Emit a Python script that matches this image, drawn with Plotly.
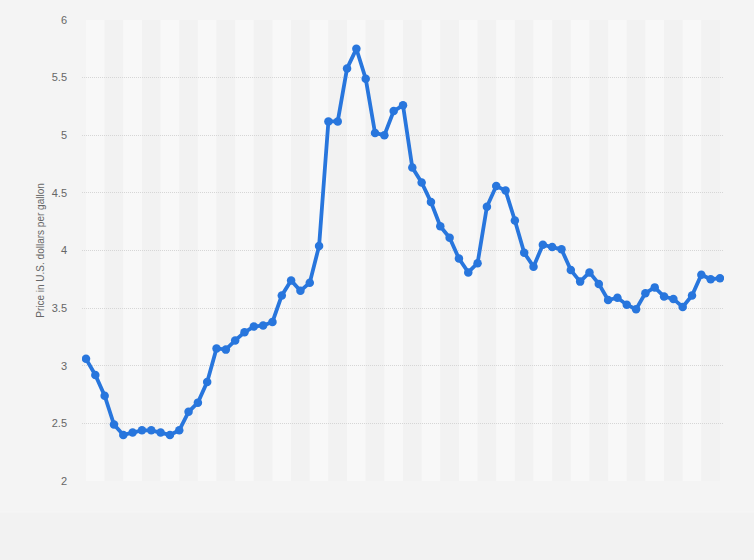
import plotly.graph_objects as go

# Monthly average price (U.S. dollars per gallon), 69 observations
period_index = list(range(69))
prices = [
    3.06, 2.92, 2.74, 2.49, 2.40, 2.42, 2.44, 2.44, 2.42, 2.40,
    2.44, 2.60, 2.68, 2.86, 3.15, 3.14, 3.22, 3.29, 3.34, 3.35,
    3.38, 3.61, 3.74, 3.65, 3.72, 4.04, 5.12, 5.12, 5.58, 5.75,
    5.49, 5.02, 5.00, 5.21, 5.26, 4.72, 4.59, 4.42, 4.21, 4.11,
    3.93, 3.81, 3.89, 4.38, 4.56, 4.52, 4.26, 3.98, 3.86, 4.05,
    4.03, 4.01, 3.83, 3.73, 3.81, 3.71, 3.57, 3.59, 3.53, 3.49,
    3.63, 3.68, 3.60, 3.58, 3.51, 3.61, 3.79, 3.75, 3.76,
]
y_ticks = [2, 2.5, 3, 3.5, 4, 4.5, 5, 5.5, 6]
y_tick_labels = ["2", "2.5", "3", "3.5", "4", "4.5", "5", "5.5", "6"]
y_title = "Price in U.S. dollars per gallon"

LINE = "#2876dd"
PAPER = "#f4f4f4"

fig = go.Figure()
fig.add_trace(go.Scatter(
    x=period_index, y=prices, mode="lines+markers",
    line=dict(color=LINE, width=3.8),
    marker=dict(color=LINE, size=8.5),
    hoverinfo="y", showlegend=False,
))

shapes = []
# alternating vertical bands, each spanning two periods
n = len(period_index) - 1
for k in range(0, n, 2):
    band = k // 2
    shapes.append(dict(
        type="rect", xref="x", yref="paper", x0=k, x1=min(k + 2, n), y0=0, y1=1,
        fillcolor="#f8f8f8" if band % 2 == 0 else "#f2f2f2",
        line=dict(width=0), layer="below",
    ))
# bottom footer strip
shapes.append(dict(
    type="rect", xref="paper", yref="paper", x0=-0.2, x1=1.1, y0=-0.2, y1=-0.0672,
    fillcolor="#f2f2f2", line=dict(width=1, color="#f6f6f6"), layer="below",
))

fig.update_layout(
    width=754, height=560,
    margin=dict(l=82, r=30, t=20, b=79),
    paper_bgcolor=PAPER, plot_bgcolor=PAPER,
    font=dict(family="Liberation Sans, Arial, sans-serif", size=11, color="#666666"),
    shapes=shapes,
    xaxis=dict(
        range=[-0.43, 68.43], showgrid=False, zeroline=False,
        showticklabels=False, ticks="", showline=False,
    ),
    yaxis=dict(
        range=[2, 6], tickvals=y_ticks, ticktext=y_tick_labels,
        showgrid=True, gridcolor="#d6d6d6", griddash="1px,1px", gridwidth=1,
        zeroline=False, showline=False, ticks="", ticklabelstandoff=14,
        title=dict(text=y_title, font=dict(size=10, color="#666666"), standoff=5),
        tickfont=dict(size=11, color="#666666"),
    ),
)

fig.write_html("out.html", config={"displayModeBar": False},
               post_script="document.body.style.margin='0';")
